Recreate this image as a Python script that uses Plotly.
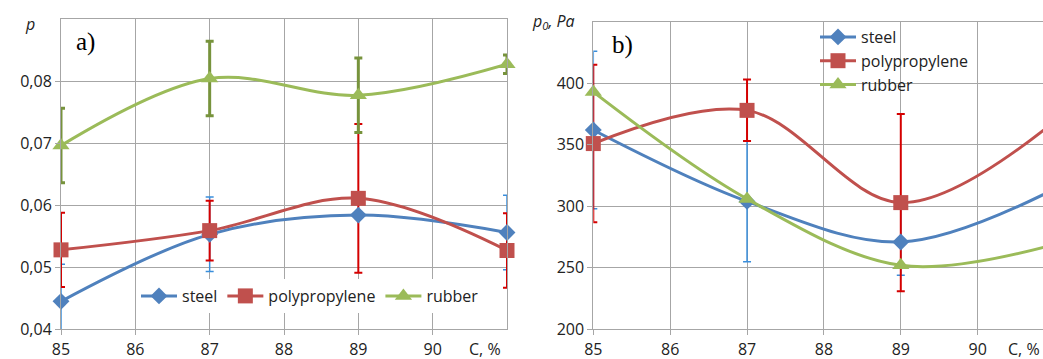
import plotly.graph_objects as go

# ---------------- data ----------------
conc = [85, 87, 89, 91]
series_names = ["steel", "polypropylene", "rubber"]

# panel a) p
p_steel = [0.0445, 0.0553, 0.0584, 0.0556]
p_steel_err = [0.006, 0.006, 0.0, 0.006]
p_pp = [0.0528, 0.0559, 0.0611, 0.0527]
p_pp_err = [0.006, 0.0048, 0.012, 0.006]
p_rubber = [0.0696, 0.0804, 0.0777, 0.0827]
p_rubber_err = [0.006, 0.006, 0.006, 0.0015]

# panel b) p0, Pa
p0_steel = [362, 304, 271, 314]
p0_steel_err = [64, 49, 27, 0]
p0_pp = [351, 378, 303, 369]
p0_pp_err = [64, 25, 72, 0]
p0_rubber = [393, 306, 252, 269]

xticks = [85, 86, 87, 88, 89, 90]
yticks_a = [0.04, 0.05, 0.06, 0.07, 0.08]
yticks_a_text = ["0,04", "0,05", "0,06", "0,07", "0,08"]
yticks_b = [200, 250, 300, 350, 400]

# ---------------- style ----------------
line_col = {"steel": "#4F81BD", "polypropylene": "#C0504D", "rubber": "#9BBB59"}
err_col = {"steel": "#3A8EDB", "polypropylene": "#D40000", "rubber": "#77933C"}
err_w = {"steel": 1.5, "polypropylene": 2, "rubber": 3}
sym = {"steel": "diamond", "polypropylene": "square", "rubber": "triangle-up"}
msize = {"steel": 13, "polypropylene": 15, "rubber": 15}
FONT = "Open Sans"
GRID = "#A6A6A6"

fig = go.Figure()

def add_err(x, y, err, name, xa, ya):
    fig.add_trace(go.Scatter(
        x=x, y=y, mode="markers", xaxis=xa, yaxis=ya,
        marker=dict(size=1, color="rgba(0,0,0,0)"),
        error_y=dict(type="data", array=err, visible=True, color=err_col[name],
                     thickness=err_w[name], width=4),
        showlegend=False, hoverinfo="skip", cliponaxis=True))

def add_line(x, y, name, xa, ya, legend):
    fig.add_trace(go.Scatter(
        x=x, y=y, name=name, mode="lines+markers", xaxis=xa, yaxis=ya,
        line=dict(color=line_col[name], width=3, shape="spline", smoothing=1),
        marker=dict(symbol=sym[name], size=msize[name], color=line_col[name]),
        legend=legend, cliponaxis=False))

# panel a
add_err(conc, p_steel, p_steel_err, "steel", "x", "y")
add_err(conc, p_pp, p_pp_err, "polypropylene", "x", "y")
add_err(conc, p_rubber, p_rubber_err, "rubber", "x", "y")
add_line(conc, p_steel, "steel", "x", "y", "legend")
add_line(conc, p_pp, "polypropylene", "x", "y", "legend")
add_line(conc, p_rubber, "rubber", "x", "y", "legend")

# panel b
add_err(conc, p0_steel, p0_steel_err, "steel", "x2", "y2")
add_err(conc, p0_pp, p0_pp_err, "polypropylene", "x2", "y2")
add_line(conc, p0_steel, "steel", "x2", "y2", "legend2")
add_line(conc, p0_pp, "polypropylene", "x2", "y2", "legend2")
add_line(conc, p0_rubber, "rubber", "x2", "y2", "legend2")

W, H = 1043, 359
axis_common = dict(showgrid=True, gridcolor=GRID, gridwidth=1, zeroline=False,
                   showline=True, linecolor=GRID, linewidth=1, mirror=True,
                   ticks="outside", ticklen=5, tickcolor=GRID, automargin=False,
                   tickfont=dict(family=FONT, size=16, color="#222"))

fig.update_layout(
    width=W, height=H, margin=dict(l=0, r=0, t=0, b=0, autoexpand=False),
    paper_bgcolor="white", plot_bgcolor="white",
    font=dict(family=FONT, size=16, color="#222"),
    xaxis=dict(domain=[61 / W, 507 / W], range=[85, 91], tickvals=xticks,
               anchor="y", **axis_common),
    yaxis=dict(domain=[1 - 329.3 / H, 1 - 19 / H], range=[0.04, 0.09],
               tickvals=yticks_a, ticktext=yticks_a_text, anchor="x", **axis_common),
    xaxis2=dict(domain=[593.3 / W, 1.0], range=[85, 90.85], tickvals=xticks,
                anchor="y2", **axis_common),
    yaxis2=dict(domain=[1 - 329.3 / H, 1 - 21.8 / H], range=[200, 450],
                tickvals=yticks_b, anchor="x2", **axis_common),
    legend=dict(orientation="h", x=136 / W, y=1 - 296 / H, xanchor="left", yanchor="middle",
                bgcolor="white", font=dict(family=FONT, size=16, color="#222"),
                itemwidth=36, tracegroupgap=0),
    legend2=dict(orientation="v", x=815 / W, y=1 - 20 / H, xanchor="left", yanchor="top",
                 bgcolor="rgba(255,255,255,0)", font=dict(family=FONT, size=16, color="#222"),
                 tracegroupgap=0, itemwidth=36),
    showlegend=True,
)

ann = [
    dict(text="<i>p</i>", x=30, y=24, xa="center"),
    dict(text="<i>p<sub>0</sub>, Pa</i>", x=553, y=22, xa="center"),
    dict(text="C, %", x=485, y=349, xa="center"),
    dict(text="C, %", x=1042, y=349, xa="right"),
]
for a in ann:
    fig.add_annotation(text=a["text"], x=a["x"] / W, y=1 - a["y"] / H, xref="paper", yref="paper",
                       showarrow=False, xanchor=a["xa"], yanchor="middle",
                       font=dict(family=FONT, size=16, color="#222"))
for t, x, y in [("a)", 85, 42), ("b)", 622, 45)]:
    fig.add_annotation(text=t, x=x / W, y=1 - y / H, xref="paper", yref="paper",
                       showarrow=False, xanchor="center", yanchor="middle",
                       font=dict(family="Liberation Serif", size=25, color="black"))

fig.write_html("out.html", config={"displayModeBar": False},
               post_script="document.body.style.margin='0';document.body.style.overflow='hidden';")
